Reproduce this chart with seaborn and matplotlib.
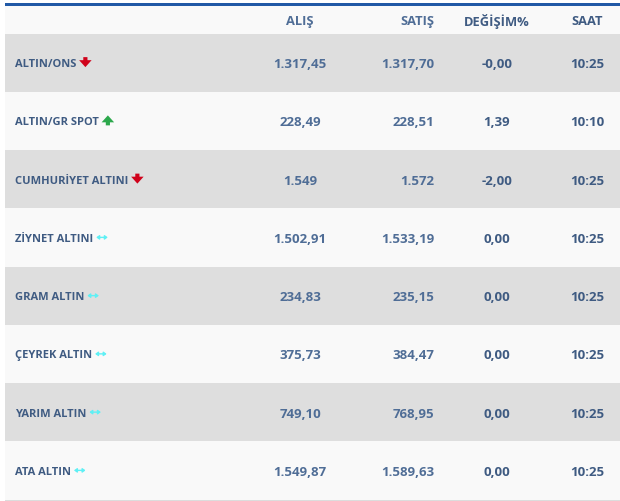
import numpy as np
import matplotlib
matplotlib.use("Agg")
import matplotlib.pyplot as plt
from matplotlib.colors import ListedColormap
from matplotlib.patches import FancyArrowPatch
import seaborn as sns

names = ["ALTIN/ONS", "ALTIN/GR SPOT", "CUMHURİYET ALTINI", "ZİYNET ALTINI",
         "GRAM ALTIN", "ÇEYREK ALTIN", "YARIM ALTIN", "ATA ALTIN"]
alis = ["1.317,45", "228,49", "1.549", "1.502,91", "234,83", "375,73", "749,10", "1.549,87"]
satis = ["1.317,70", "228,51", "1.572", "1.533,19", "235,15", "384,47", "768,95", "1.589,63"]
degisim = ["-0,00", "1,39", "-2,00", "0,00", "0,00", "0,00", "0,00", "0,00"]
saat = ["10:25", "10:10", "10:25", "10:25", "10:25", "10:25", "10:25", "10:25"]
trend = ["down", "up", "down", "flat", "flat", "flat", "flat", "flat"]
headers = ["ALIŞ", "SATIŞ", "DEĞİŞİM%", "SAAT"]

W, H = 620, 502
LIGHT = "#f9f9f9"
GREY = "#dedede"
NAVY = "#3f5b82"
VALUE = "#4f6d96"

plt.rcParams["font.family"] = ["Open Sans", "DejaVu Sans"]
fig = plt.figure(figsize=(W / 100, H / 100), dpi=100, facecolor="white")


def px_axes(x0, y0, x1, y1):
    # pixel box, y measured from the top
    return fig.add_axes([x0 / W, 1 - y1 / H, (x1 - x0) / W, (y1 - y0) / H])


# striped rows
ax = px_axes(4.5, 34.5, W, 500.5)
stripes = np.array([[(i + 1) % 2] for i in range(len(names))])
sns.heatmap(stripes, ax=ax, cmap=ListedColormap([LIGHT, GREY]), vmin=0, vmax=1,
            cbar=False, xticklabels=False, yticklabels=False)

# header strip and top rule
head = px_axes(4.5, 6.5, W, 34.5)
head.set_facecolor(LIGHT)
head.set_xticks([])
head.set_yticks([])
for s in head.spines.values():
    s.set_visible(False)
fig.patches.append(plt.Rectangle((4.5 / W, 1 - 7 / H), 1, 3.5 / H, transform=fig.transFigure,
                                 color="#2159a6", lw=0))
fig.patches.append(plt.Rectangle((4.5 / W, 0), 1, 1.5 / H, transform=fig.transFigure,
                                 color="#dcdcdc", lw=0))


def put(x, y, s, ha="center", size=9.5, color=VALUE):
    return fig.text(x / W, 1 - y / H, s, ha=ha, va="center_baseline", fontsize=size,
                    fontweight="bold", color=color)


put(300, 20, headers[0], size=9.3, color=VALUE)
put(434, 20, headers[1], ha="right", size=9.3, color=VALUE)
put(497, 20, headers[2], size=9.3, color=NAVY)
put(587, 20, headers[3], size=9.3, color=NAVY)

fig.canvas.draw()
rend = fig.canvas.get_renderer()
row_h = (500.5 - 34.5) / len(names)
for i, name in enumerate(names):
    y = 34.5 + row_h * (i + 0.5) - 0.5
    lab = put(15, y, name, ha="left", size=8.0, color=NAVY)
    put(300, y, alis[i])
    put(434, y, satis[i], ha="right")
    put(497, y, degisim[i], color=NAVY)
    put(587, y, saat[i], color=NAVY)

    end = lab.get_window_extent(rend).x1
    if trend[i] == "flat":
        start, stop = (end + 3, y + 0.5), (end + 14.5, y + 0.5)
        style, col, lw, ms = "<|-|>,head_length=0.4,head_width=0.3", "#5ff0f5", 1.0, 4
    elif trend[i] == "up":
        start, stop = (end + 9, y + 5), (end + 9, y - 5)
        style, col, lw, ms = "simple,head_length=0.5,head_width=0.9,tail_width=0.3", "#2ca84c", 0, 10
    else:
        start, stop = (end + 9, y - 5), (end + 9, y + 5)
        style, col, lw, ms = "simple,head_length=0.5,head_width=0.9,tail_width=0.3", "#d0021b", 0, 10
    fig.add_artist(FancyArrowPatch(
        (start[0] / W, 1 - start[1] / H), (stop[0] / W, 1 - stop[1] / H),
        transform=fig.transFigure, arrowstyle=style, color=col, lw=lw,
        mutation_scale=ms, shrinkA=0, shrinkB=0))

fig.savefig("out.png", dpi=100)
